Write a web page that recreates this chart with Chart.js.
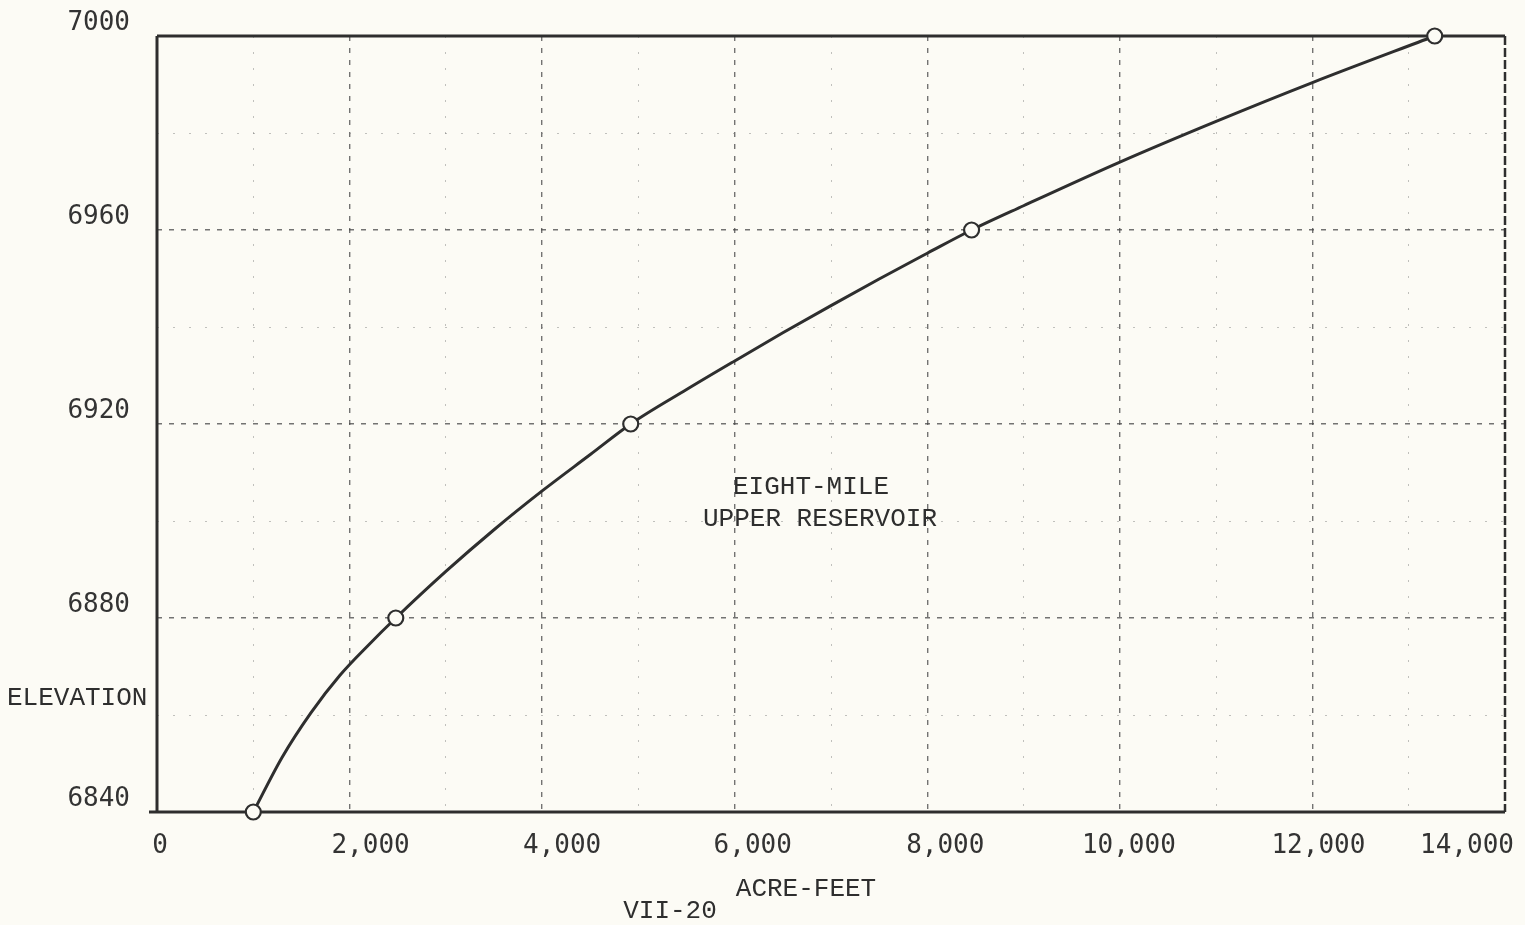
<!DOCTYPE html>
<html>
<head>
<meta charset="utf-8">
<script src="https://cdn.jsdelivr.net/npm/chart.js@4/dist/chart.umd.min.js"></script>
<style>
  html, body { margin: 0; padding: 0; background: #fcfbf5; }
  canvas { display: block; }
</style>
</head>
<body>
<canvas id="c" width="1525" height="925"></canvas>
<script>
// Marked survey points (acre-feet vs elevation)
const markerAcreFeet  = [1000, 2480, 4920, 8460, 13270];
const markerElevation = [6840, 6880, 6920, 6960, 7000];

// Hand-drawn capacity curve
const curveAcreFeet  = [1000, 1300, 1600, 1900, 2200, 2480, 3000, 3500, 4000, 4500, 4920,
                        5500, 6000, 6500, 7000, 7500, 8000, 8460, 9000, 10000, 11000, 12000, 13270];
const curveElevation = [6840, 6851.3, 6860.5, 6868.2, 6874.5, 6880, 6889.6, 6898.2, 6906.2, 6913.7, 6920,
                        6927.1, 6933.0, 6938.8, 6944.4, 6949.9, 6955.2, 6960, 6965.0, 6974.0, 6982.4, 6990.4, 7000];

// Axis ticks
const xTickValues = [0, 2000, 4000, 6000, 8000, 10000, 12000, 14000];
const yTickValues = [6840, 6880, 6920, 6960, 7000];

// Texts
const yAxisTitle = 'ELEVATION';
const xAxisTitle = 'ACRE-FEET';
const pageLabel = 'VII-20';
const chartLabel = ['EIGHT-MILE', 'UPPER RESERVOIR'];

// Styling
const INK = '#2e2e2e';
const BG = '#fcfbf5';
const TYPE_FONT = '26px "Liberation Mono", "DejaVu Sans Mono", monospace';
// typed tick labels sit a little off their grid lines (px nudges)
const X_LABEL_NUDGE = { 0: 3, 2000: 21, 4000: 20, 6000: 18, 8000: 18, 10000: 9, 12000: 6, 14000: -38 };

const toPts = (xs, ys) => xs.map((x, i) => ({ x: x, y: ys[i] }));

const framePlugin = {
  id: 'frame',
  beforeDraw(chart) {
    const c = chart.ctx;
    c.save();
    c.fillStyle = BG;
    c.fillRect(0, 0, chart.width, chart.height);
    c.restore();
    const sx = chart.scales.x;
    const items = sx.getLabelItems();
    items.forEach((it, i) => {
      const t = sx.ticks[i];
      if (t && X_LABEL_NUDGE[t.value] !== undefined && !it._nudged) {
        it.options.translation[0] += X_LABEL_NUDGE[t.value];
        it._nudged = true;
      }
    });
  },
  beforeDatasetsDraw(chart) {
    const { ctx: c, chartArea: a } = chart;
    c.save();
    c.strokeStyle = INK;
    c.setLineDash([]);
    c.lineWidth = 3;
    c.beginPath();
    c.moveTo(a.left, a.top); c.lineTo(a.right, a.top);
    c.moveTo(a.left, a.top); c.lineTo(a.left, a.bottom);
    c.stroke();
    c.beginPath();
    c.moveTo(a.left - 8, a.bottom); c.lineTo(a.right, a.bottom);
    c.stroke();
    c.lineWidth = 2.5;
    c.setLineDash([9, 3]);
    c.beginPath();
    c.moveTo(a.right, a.top); c.lineTo(a.right, a.bottom);
    c.stroke();
    c.restore();
  },
  afterDatasetsDraw(chart) {
    const c = chart.ctx;
    c.save();
    c.fillStyle = INK;
    c.font = TYPE_FONT;
    c.textBaseline = 'middle';
    c.textAlign = 'left';
    c.fillText(yAxisTitle, 7, 698);
    c.textAlign = 'center';
    c.fillText(xAxisTitle, 806, 889);
    c.fillText(pageLabel, 670, 911);
    c.fillText(chartLabel[0], 811, 487);
    c.fillText(chartLabel[1], 820, 519);
    c.restore();
  }
};

new Chart(document.getElementById('c'), {
  type: 'scatter',
  data: {
    datasets: [
      {
        label: 'points',
        data: toPts(markerAcreFeet, markerElevation),
        showLine: false,
        clip: false,
        pointStyle: 'circle',
        pointRadius: 7.5,
        pointBorderWidth: 2.2,
        pointBorderColor: INK,
        pointBackgroundColor: BG
      },
      {
        label: 'curve',
        data: toPts(curveAcreFeet, curveElevation),
        showLine: true,
        clip: 4,
        borderColor: INK,
        borderWidth: 3,
        pointRadius: 0,
        cubicInterpolationMode: 'monotone',
        fill: false
      }
    ]
  },
  options: {
    responsive: false,
    animation: false,
    devicePixelRatio: 1,
    layout: { padding: { left: 0, right: 20, top: 36, bottom: 0 } },
    plugins: { legend: { display: false }, tooltip: { enabled: false } },
    scales: {
      x: {
        type: 'linear',
        min: 0, max: 14000,
        afterBuildTicks(s) {
          const t = [];
          for (let v = 0; v <= 14000; v += 1000) t.push({ value: v });
          s.ticks = t;
        },
        afterFit(s) { s.height = 113; s.paddingLeft = 0; s.paddingRight = 0; },
        ticks: {
          autoSkip: false,
          maxRotation: 0,
          minRotation: 0,
          padding: 19,
          color: '#333',
          font: { family: '"DejaVu Sans Mono", monospace', size: 26 },
          callback: (v) => xTickValues.includes(v) ? v.toLocaleString('en-US') : ''
        },
        grid: {
          drawTicks: false,
          color: (ctx) => (ctx.tick && ctx.tick.value % 2000 === 0) ? 'rgba(70,70,70,0.75)' : 'rgba(120,120,120,0.45)',
          lineWidth: (ctx) => (ctx.tick && ctx.tick.value % 2000 === 0) ? 1.4 : 1
        },
        border: {
          display: false,
          dash: (ctx) => (ctx.tick && ctx.tick.value % 2000 === 0) ? [5, 7] : [2, 14]
        }
      },
      y: {
        type: 'linear',
        min: 6840, max: 7000,
        afterBuildTicks(s) {
          const t = [];
          for (let v = 6840; v <= 7000; v += 20) t.push({ value: v });
          s.ticks = t;
        },
        afterFit(s) { s.width = 157; s.paddingTop = 0; s.paddingBottom = 0; },
        ticks: {
          autoSkip: false,
          padding: 27,
          labelOffset: -13,
          color: '#333',
          font: { family: '"DejaVu Sans Mono", monospace', size: 26 },
          callback: (v) => yTickValues.includes(v) ? String(v) : ''
        },
        grid: {
          drawTicks: false,
          color: (ctx) => (ctx.tick && ctx.tick.value % 40 === 0) ? 'rgba(70,70,70,0.75)' : 'rgba(120,120,120,0.45)',
          lineWidth: (ctx) => (ctx.tick && ctx.tick.value % 40 === 0) ? 1.4 : 1
        },
        border: {
          display: false,
          dash: (ctx) => (ctx.tick && ctx.tick.value % 40 === 0) ? [5, 7] : [2, 14]
        }
      }
    }
  },
  plugins: [framePlugin]
});
</script>
</body>
</html>
